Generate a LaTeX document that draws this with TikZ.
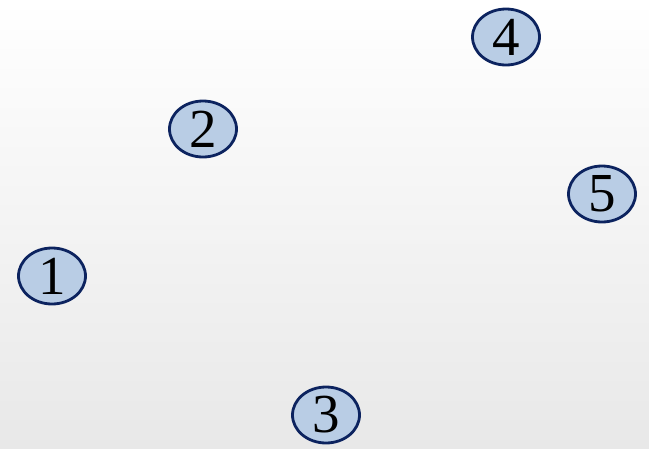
\documentclass[tikz,border=0pt]{standalone}
\usepackage{tikz}
\usepackage{fontspec}
\setmainfont{Liberation Serif}
\usetikzlibrary{shapes.geometric}
\definecolor{nodefill}{RGB}{185,205,229}
\definecolor{nodeedge}{RGB}{12,35,95}
\tikzset{
  numnode/.style={ellipse, draw=nodeedge, line width=2.8pt, fill=nodefill,
    minimum width=67pt, minimum height=56pt, inner sep=0pt,
    font=\fontsize{55}{55}\selectfont, text=black}
}
\begin{document}
\begin{tikzpicture}[x=1pt,y=-1pt]
\shade[top color=white, bottom color=black!9] (0,0) rectangle (649,448);
\useasboundingbox (0,0) rectangle (649,448);
\foreach \n/\x/\y in {1/52/276, 2/203/129, 3/326/415, 4/506/37, 5/602/194}{
  \node[numnode] (n\n) at (\x,\y) {\n};
}
\end{tikzpicture}
\end{document}
